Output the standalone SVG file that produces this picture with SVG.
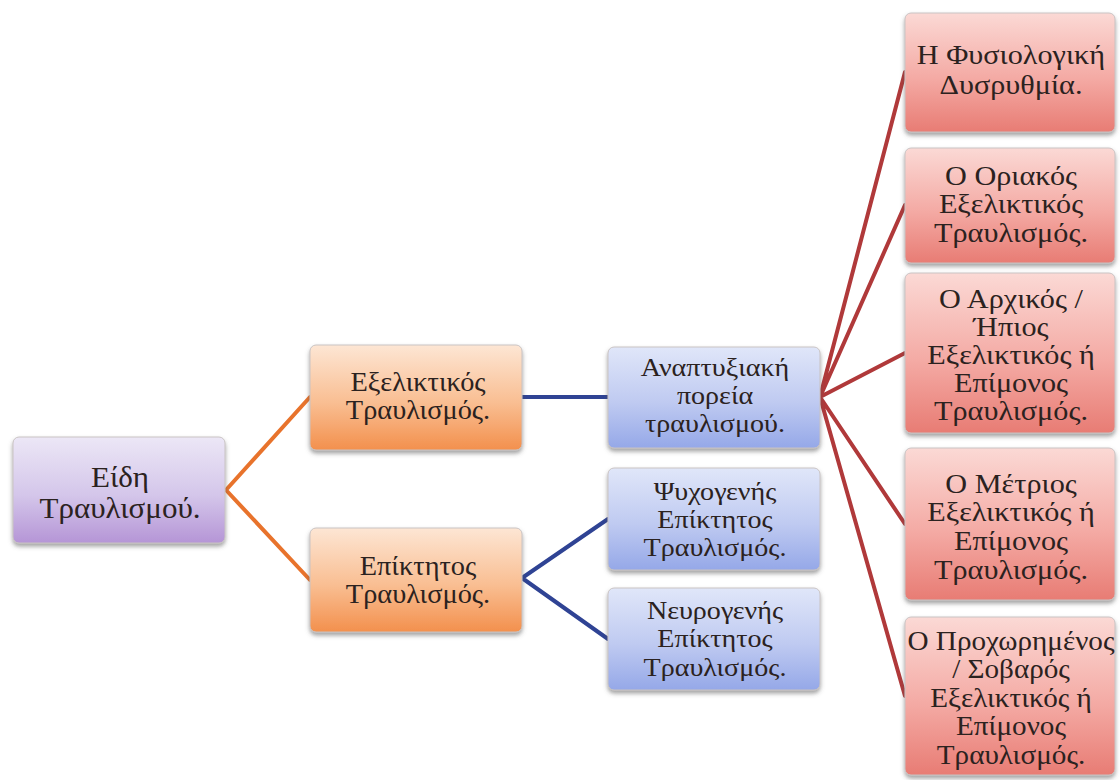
<svg xmlns="http://www.w3.org/2000/svg" width="1120" height="780" viewBox="0 0 1120 780">
<style>
text{font-family:"Liberation Serif","DejaVu Serif",serif;fill:#2b2220;text-anchor:middle}
.c{fill:none;stroke-width:4;stroke-linecap:round}
.box{stroke:#c9c3c3;stroke-width:1}
.f29{font-size:29px}
.f27{font-size:27px}
.f26{font-size:26px}
</style>
<defs>
<linearGradient id="gPurple" x1="0" y1="0" x2="0" y2="1"><stop offset="0" stop-color="#ece7f6"/><stop offset="0.55" stop-color="#d4c6ea"/><stop offset="1" stop-color="#b595d6"/></linearGradient>
<linearGradient id="gOrange" x1="0" y1="0" x2="0" y2="1"><stop offset="0" stop-color="#fde6d4"/><stop offset="0.55" stop-color="#f9be92"/><stop offset="1" stop-color="#f3904d"/></linearGradient>
<linearGradient id="gBlue" x1="0" y1="0" x2="0" y2="1"><stop offset="0" stop-color="#e0e6f9"/><stop offset="0.55" stop-color="#bfcaf1"/><stop offset="1" stop-color="#95a8e8"/></linearGradient>
<linearGradient id="gRed" x1="0" y1="0" x2="0" y2="1"><stop offset="0" stop-color="#fbd9d5"/><stop offset="0.55" stop-color="#f4aaa4"/><stop offset="1" stop-color="#e87c74"/></linearGradient>
<filter id="sh" x="-10%" y="-10%" width="120%" height="130%"><feDropShadow dx="0" dy="3" stdDeviation="2" flood-color="#555" flood-opacity="0.55"/></filter>
</defs>
<rect width="1120" height="780" fill="#ffffff"/>
<g id="connectors">
<path class="c" stroke="#e8732c" d="M226 490 L310 397 M226 490 L310 580"/>
<path class="c" stroke="#2f4394" d="M522 397 L608 397 M522 578 L608 519 M522 578 L608 639"/>
<path class="c" stroke="#b0393a" d="M820 397 L905 72 M820 397 L905 205 M820 397 L905 353 M820 397 L905 524 M820 397 L905 696"/>
</g>
<g id="n-root"><rect class="box" x="13" y="437" width="212" height="106" rx="6" fill="url(#gPurple)" filter="url(#sh)"/><g transform="translate(120 0) scale(1.07 1)"><text class="f29" x="0" y="487">Είδη</text><text class="f29" x="0" y="518">Τραυλισμού.</text></g></g>
<g id="n-exel"><rect class="box" x="310" y="345" width="212" height="105" rx="6" fill="url(#gOrange)" filter="url(#sh)"/><g transform="translate(418 0) scale(1.05 1)"><text class="f27" x="0" y="391">Εξελικτικός</text><text class="f27" x="0" y="419">Τραυλισμός.</text></g></g>
<g id="n-epik"><rect class="box" x="310" y="528" width="212" height="104" rx="6" fill="url(#gOrange)" filter="url(#sh)"/><g transform="translate(418 0) scale(1.05 1)"><text class="f27" x="0" y="575">Επίκτητος</text><text class="f27" x="0" y="603">Τραυλισμός.</text></g></g>
<g id="n-anapt"><rect class="box" x="608" y="347" width="212" height="101" rx="6" fill="url(#gBlue)" filter="url(#sh)"/><g transform="translate(715 0) scale(1.08 1)"><text class="f26" x="0" y="376">Αναπτυξιακή</text><text class="f26" x="0" y="404">πορεία</text><text class="f26" x="0" y="432">τραυλισμού.</text></g></g>
<g id="n-psych"><rect class="box" x="608" y="468" width="212" height="102" rx="6" fill="url(#gBlue)" filter="url(#sh)"/><g transform="translate(715 0) scale(1.08 1)"><text class="f26" x="0" y="500">Ψυχογενής</text><text class="f26" x="0" y="528">Επίκτητος</text><text class="f26" x="0" y="556">Τραυλισμός.</text></g></g>
<g id="n-neuro"><rect class="box" x="608" y="588" width="212" height="102" rx="6" fill="url(#gBlue)" filter="url(#sh)"/><g transform="translate(715 0) scale(1.08 1)"><text class="f26" x="0" y="619">Νευρογενής</text><text class="f26" x="0" y="647">Επίκτητος</text><text class="f26" x="0" y="676">Τραυλισμός.</text></g></g>
<g id="n-r1"><rect class="box" x="905" y="13" width="210" height="119" rx="6" fill="url(#gRed)" filter="url(#sh)"/><g transform="translate(1011 0) scale(1.12 1)"><text class="f27" x="0" y="64">Η Φυσιολογική</text><text class="f27" x="0" y="94">Δυσρυθμία.</text></g></g>
<g id="n-r2"><rect class="box" x="905" y="148" width="210" height="115" rx="6" fill="url(#gRed)" filter="url(#sh)"/><g transform="translate(1011 0) scale(1.12 1)"><text class="f27" x="0" y="185">Ο Οριακός</text><text class="f27" x="0" y="213">Εξελικτικός</text><text class="f27" x="0" y="242">Τραυλισμός.</text></g></g>
<g id="n-r3"><rect class="box" x="905" y="273" width="210" height="160" rx="6" fill="url(#gRed)" filter="url(#sh)"/><g transform="translate(1011 0) scale(1.12 1)"><text class="f27" x="0" y="308">Ο Αρχικός /</text><text class="f27" x="0" y="336">Ήπιος</text><text class="f27" x="0" y="364">Εξελικτικός ή</text><text class="f27" x="0" y="392">Επίμονος</text><text class="f27" x="0" y="420">Τραυλισμός.</text></g></g>
<g id="n-r4"><rect class="box" x="905" y="448" width="210" height="152" rx="6" fill="url(#gRed)" filter="url(#sh)"/><g transform="translate(1011 0) scale(1.12 1)"><text class="f27" x="0" y="493">Ο Μέτριος</text><text class="f27" x="0" y="521">Εξελικτικός ή</text><text class="f27" x="0" y="550">Επίμονος</text><text class="f27" x="0" y="579">Τραυλισμός.</text></g></g>
<g id="n-r5"><rect class="box" x="905" y="617" width="210" height="158" rx="6" fill="url(#gRed)" filter="url(#sh)"/><g transform="translate(1011 0) scale(1.08 1)"><text class="f27" x="0" y="650">Ο Προχωρημένος</text><text class="f27" x="0" y="678">/ Σοβαρός</text><text class="f27" x="0" y="707">Εξελικτικός ή</text><text class="f27" x="0" y="735">Επίμονος</text><text class="f27" x="0" y="764">Τραυλισμός.</text></g></g>
</svg>
